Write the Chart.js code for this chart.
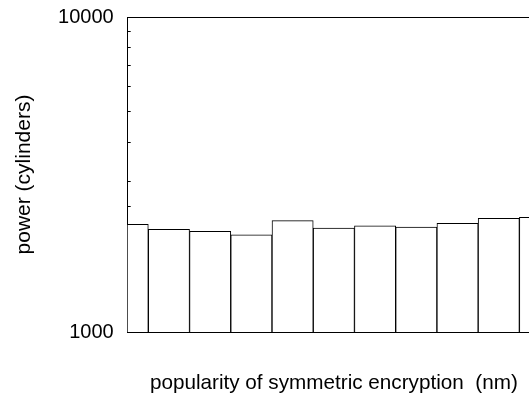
<!DOCTYPE html>
<html><head><meta charset="utf-8">
<style>
html,body{margin:0;padding:0;background:#fff;overflow:hidden;}
#wrap{width:529px;height:394px;overflow:hidden;position:relative;background:#fff;}
canvas{display:block;}
</style>
<script src="https://cdn.jsdelivr.net/npm/chart.js@4"></script>
</head><body>
<div id="wrap"><canvas id="c" width="540" height="394"></canvas></div>
<script>
const categories = ['1','2','3','4','5','6','7','8','9','10','11'];
const powerValues = [2197, 2118, 2087, 2036, 2256, 2136, 2174, 2154, 2213, 2296, 2313];
const yTickLabels = [1000, 10000];
const xTitle = 'popularity of symmetric encryption  (nm)';
const yTitle = 'power (cylinders)';

Chart.defaults.font.family = "'Liberation Sans', Arial, sans-serif";
Chart.defaults.color = '#000';

new Chart(document.getElementById('c'), {
  type: 'bar',
  data: {
    labels: categories,
    datasets: [{
      data: powerValues,
      backgroundColor: '#fff',
      borderColor: '#000',
      borderWidth: 1,
      categoryPercentage: 1,
      barPercentage: 1,
      clip: 0
    }]
  },
  options: {
    responsive: false,
    animation: false,
    devicePixelRatio: 1,
    plugins: { legend: { display: false }, tooltip: { enabled: false } },
    layout: { padding: { top: 0, left: 0, right: 0, bottom: 0 } },
    scales: {
      x: {
        type: 'category',
        offset: false,
        grid: { display: false, drawTicks: false },
        ticks: { display: false },
        border: { display: true, color: '#000', width: 1 },
        title: { display: true, text: xTitle, color: '#000', font: { size: 20.7, lineHeight: 1 }, padding: { top: 0, bottom: 0 } },
        afterFit(s) { s.height = 62; }
      },
      y: {
        type: 'logarithmic',
        min: 1000,
        max: 10000,
        grid: {
          drawOnChartArea: true,
          drawTicks: true,
          tickLength: -3,
          lineWidth: 1,
          color: (c) => (c.tick && c.tick.value === 10000) ? '#000' : 'rgba(0,0,0,0)',
          tickColor: '#000'
        },
        border: { display: true, color: '#000', width: 1 },
        ticks: {
          autoSkip: false,
          padding: 17,
          color: '#000',
          font: { size: 20, lineHeight: 0 },
          callback: (v) => yTickLabels.includes(v) ? String(v) : ''
        },
        title: { display: true, text: yTitle, color: '#000', font: { size: 21 }, padding: { top: 12, bottom: 0 } },
        afterFit(s) { s.width = 127.7; }
      }
    }
  }
});
</script>
</body></html>
